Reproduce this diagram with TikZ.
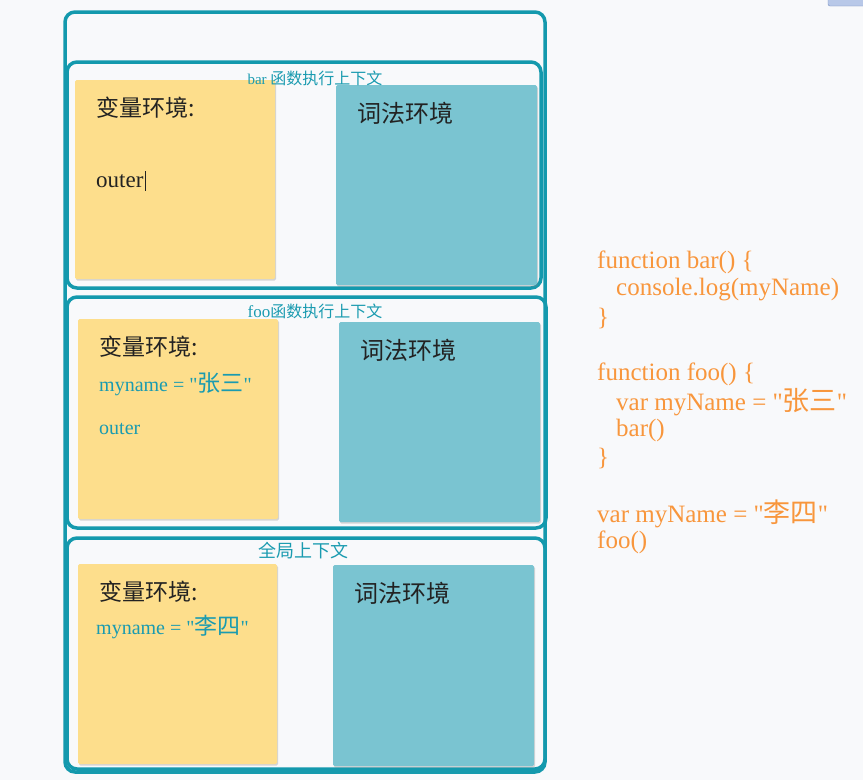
\documentclass[tikz,border=0pt]{standalone}
\usepackage{fontspec}
\newfontfamily\lat{Liberation Serif}
\newfontfamily\cjk{Noto Sans CJK SC}
\usetikzlibrary{shadows}
\definecolor{frame}{HTML}{1499AD}
\definecolor{tealtext}{HTML}{1A9BB0}
\definecolor{yel}{HTML}{FDDE8C}
\definecolor{blu}{HTML}{7AC4D1}
\definecolor{orng}{HTML}{F8963C}
\definecolor{bg}{HTML}{F8F9FB}
\definecolor{dark}{HTML}{222222}
\begin{document}
\begin{tikzpicture}[x=1pt,y=-1pt,
  ctxbox/.style={draw=frame,line width=3.5pt,rounded corners=10pt},
  varbox/.style={fill=yel,rounded corners=1.5pt,drop shadow={opacity=0.3,shadow xshift=1pt,shadow yshift=-1.5pt}},
  lexbox/.style={fill=blu,rounded corners=1.5pt,drop shadow={opacity=0.3,shadow xshift=1pt,shadow yshift=-1.5pt}},
  head/.style={anchor=west,inner sep=0pt,text=dark,font=\cjk\fontsize{23}{26}\selectfont},
  lexhead/.style={anchor=west,inner sep=0pt,text=dark,font=\cjk\fontsize{24}{26}\selectfont},
  lbl/.style={inner sep=0pt,text=tealtext},
  val/.style={anchor=west,inner sep=0pt,text=tealtext,font=\lat\fontsize{20}{22}\selectfont},
  code/.style={anchor=west,inner sep=0pt,text=orng,font=\lat\fontsize{25}{28}\selectfont}]
\useasboundingbox (0,0) rectangle (863,780);
\fill[bg] (0,0) rectangle (863,780);
% top-right widget
\fill[fill={rgb,255:red,184;green,200;blue,232},draw={rgb,255:red,120;green,144;blue,192},rounded corners=2pt] (828,-6) rectangle (872,6);
% frames
\draw[ctxbox] (65,12) rectangle (545,772);
\draw[ctxbox] (67,62) rectangle (541,288);
\draw[ctxbox] (67,297) rectangle (546,528);
\draw[ctxbox] (67,538) rectangle (545,769);
% bar context
\path[varbox] (75,80) rectangle (275,279);
\path[lexbox] (336,85) rectangle (537,285);
\node[lbl] (lbar) at (315,78) {\lat\fontsize{15}{16}\selectfont bar {\cjk\fontsize{16}{18}\selectfont 函数执行上下文}};
\node[head] (vbar) at (96,108) {变量环境:};
\node[lexhead] (lexbar) at (357,113) {词法环境};
\node[anchor=west,inner sep=0pt,text=dark,font=\lat\fontsize{23}{26}\selectfont] (obar) at (96,181) {outer};
\draw[dark,line width=1pt] (obar.east) ++(1.5,-10) -- ++(0,20);
% foo context
\path[varbox] (78,319) rectangle (278,519);
\path[lexbox] (339,322) rectangle (540,522);
\node[lbl] (lfoo) at (315,311) {\lat\fontsize{17}{18}\selectfont foo{\cjk\fontsize{16}{18}\selectfont 函数执行上下文}};
\node[head] (vfoo) at (99,347) {变量环境:};
\node[lexhead] (lexfoo) at (360,350) {词法环境};
\node[val] (mfoo) at (99,384) {myname = "{\cjk\fontsize{23}{24}\selectfont 张三}"};
\node[val] (ofoo) at (99,429) {outer};
% global context
\path[varbox] (78,564) rectangle (277,764);
\path[lexbox] (333,565) rectangle (534,766);
\node[lbl] (lglob) at (303,551) {\cjk\fontsize{18}{20}\selectfont 全局上下文};
\node[head] (vglob) at (99,592) {变量环境:};
\node[lexhead] (lexglob) at (354,593) {词法环境};
\node[val] (mglob) at (96,627) {myname = "{\cjk\fontsize{23}{24}\selectfont 李四}"};
% code
\node[code] (c1) at (597,262) {function bar() \{};
\node[code] (c2) at (616,290) {console.log(myName)};
\node[code] (c3) at (597,318) {\}};
\node[code] (c4) at (597,374) {function foo() \{};
\node[code] (c5) at (616,402) {var myName = "{\cjk\fontsize{27}{28}\selectfont 张三}"};
\node[code] (c6) at (616,430) {bar()};
\node[code] (c7) at (597,458) {\}};
\node[code] (c8) at (597,514) {var myName = "{\cjk\fontsize{27}{28}\selectfont 李四}"};
\node[code] (c9) at (597,542) {foo()};
\end{tikzpicture}
\end{document}
